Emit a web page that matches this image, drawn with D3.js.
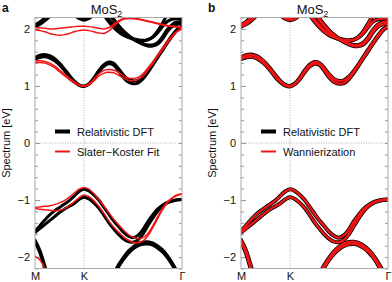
<!DOCTYPE html>
<html>
<head>
<meta charset="utf-8">
<script src="https://cdn.jsdelivr.net/npm/d3@7"></script>
<style>
  body { margin: 0; background: #fff; }
  svg text { font-family: "Liberation Sans", Arial, sans-serif; fill: #111; }
</style>
</head>
<body>
<div id="chart"></div>
<script>
// path coordinate: M = 0, K = 1, Gamma = 3
var kPath = [0, 0.1, 0.2, 0.3, 0.4, 0.5, 0.6, 0.7, 0.8, 0.9, 1.0,
             1.1, 1.2, 1.3, 1.4, 1.5, 1.6, 1.7, 1.8, 1.9, 2.0,
             2.1, 2.2, 2.3, 2.4, 2.5, 2.6, 2.7, 2.8, 2.9, 3.0];
var symLabels = ["M", "K", "\u0393"];
var symPos = [0, 1, 3];
var eTicks = [-2, -1, 0, 1, 2];
var N = null;

// relativistic DFT bands (eV)
var dftC1a = [1.50,1.54,1.55,1.53,1.48,1.40,1.30,1.19,1.09,1.02,1.00,
              1.04,1.14,1.27,1.37,1.42,1.40,1.31,1.20,1.12,1.09,
              1.10,1.16,1.26,1.38,1.51,1.64,1.77,1.89,1.99,2.05];
var dftC1b = [1.47,1.50,1.51,1.49,1.44,1.37,1.27,1.16,1.07,1.01,0.99,
              1.03,1.12,1.24,1.34,1.39,1.37,1.27,1.15,1.07,1.04,
              1.05,1.12,1.23,1.36,1.49,1.62,1.75,1.87,1.98,2.04];
var dftC2a = [2.07,2.12,2.20,2.30,2.42,N,N,N,N,N,N,
              N,N,N,N,N,N,N,N,N,N,
              N,N,N,N,N,N,N,N,N,N];
var dftC2b = [2.04,2.08,2.14,2.22,2.32,2.44,N,N,N,N,N,
              N,N,N,N,N,N,N,N,N,N,
              N,N,N,N,N,N,N,N,N,N];
var dftC3a = [N,N,N,N,N,N,N,N,2.24,2.18,2.15,
              2.18,2.24,N,N,N,N,N,N,N,N,
              N,N,N,N,N,N,N,N,N,N];
var dftC3b = [N,N,N,N,N,N,N,N,2.26,2.20,2.17,
              2.20,2.26,N,N,N,N,N,N,N,N,
              N,N,N,N,N,N,N,N,N,N];
var dftC4a = [N,N,N,N,N,N,N,N,N,N,N,
              N,N,2.40,2.25,2.13,2.03,1.95,1.89,1.85,1.82,
              1.80,1.79,1.81,1.86,1.96,2.10,2.25,2.40,N,N];
var dftC4b = [N,N,N,N,N,N,N,N,N,N,N,
              N,N,2.44,2.29,2.17,2.07,1.98,1.91,1.86,1.83,
              1.81,1.80,1.81,1.85,1.93,2.04,2.13,2.17,2.18,2.18];
var dftC5a = [N,N,N,N,N,N,N,N,N,N,N,
              N,N,N,2.42,2.28,2.15,2.05,1.96,1.89,1.83,
              1.78,1.74,1.72,1.72,1.76,1.86,1.99,2.08,2.12,2.13];
var dftC5b = [N,N,N,N,N,N,N,N,N,N,N,
              N,N,N,2.46,2.31,2.18,2.07,1.97,1.89,1.82,
              1.77,1.73,1.70,1.70,1.73,1.82,1.95,2.04,2.08,2.09];
var dftV1 = [-1.55,-1.45,-1.35,-1.26,-1.19,-1.13,-1.07,-1.01,-0.93,-0.85,-0.81,
             -0.84,-0.91,-1.00,-1.12,-1.24,-1.36,-1.46,-1.56,-1.63,-1.66,
             -1.62,-1.52,-1.38,-1.26,-1.16,-1.09,-1.04,-1.01,-0.995,-0.99];
var dftV2 = [-1.57,-1.50,-1.43,-1.36,-1.29,-1.22,-1.16,-1.11,-1.06,-0.99,-0.95,
             -0.98,-1.05,-1.14,-1.26,-1.39,-1.50,-1.60,-1.68,-1.73,-1.74,
             -1.70,-1.60,-1.46,-1.32,-1.20,-1.11,-1.05,-1.02,-1.00,-0.99];
var dftV3a = [-1.70,-1.88,-2.15,-2.45,N,N,N,N,N,N,N,
              N,N,N,N,N,N,N,N,N,N,
              N,N,N,N,N,N,N,N,N,N];
var dftV3b = [-1.73,-1.93,-2.21,-2.52,N,N,N,N,N,N,N,
              N,N,N,N,N,N,N,N,N,N,
              N,N,N,N,N,N,N,N,N,N];
var dftV4a = [N,N,N,N,N,N,N,N,N,N,N,
              N,N,N,N,N,-2.30,-2.14,-2.01,-1.90,-1.82,
              -1.765,-1.735,-1.73,-1.75,-1.80,-1.87,-1.97,-2.10,-2.25,-2.42];
var dftV4b = [N,N,N,N,N,N,N,N,N,N,N,
              N,N,N,N,N,-2.34,-2.18,-2.05,-1.94,-1.86,
              -1.805,-1.775,-1.77,-1.79,-1.84,-1.91,-2.01,-2.14,-2.29,-2.46];

// Slater-Koster fit bands (eV)
var skC1a = [1.44,1.44,1.43,1.40,1.35,1.28,1.21,1.14,1.07,1.02,1.00,
             1.04,1.12,1.21,1.27,1.29,1.28,1.24,1.18,1.14,1.13,
             1.15,1.21,1.31,1.42,1.54,1.66,1.78,1.88,1.96,2.01];
var skC1b = [1.41,1.41,1.40,1.37,1.32,1.25,1.18,1.11,1.05,1.01,0.99,
             1.02,1.09,1.17,1.22,1.24,1.23,1.19,1.14,1.10,1.09,
             1.11,1.17,1.27,1.39,1.51,1.63,1.75,1.86,1.95,2.00];
var skC2a = [2.02,2.02,2.01,2.00,2.00,2.01,2.02,2.03,2.04,2.045,2.045,
             2.04,2.03,2.01,2.00,2.02,2.08,2.14,2.18,2.19,2.19,
             2.18,2.16,2.14,2.12,2.10,2.08,2.06,2.05,2.04,2.03];
var skC2b = [1.98,1.97,1.95,1.92,1.90,1.89,1.90,1.92,1.95,1.97,1.98,
             1.97,1.95,1.93,1.92,1.96,2.04,2.12,2.17,2.18,2.18,
             2.17,2.15,2.13,2.11,2.09,2.07,2.05,2.04,2.03,2.02];
var skV1 = [-1.13,-1.12,-1.11,-1.10,-1.08,-1.05,-1.01,-0.95,-0.88,-0.81,-0.78,
            -0.81,-0.89,-0.99,-1.10,-1.22,-1.33,-1.43,-1.52,-1.60,-1.65,
            -1.68,-1.66,-1.59,-1.46,-1.30,-1.15,-1.03,-0.96,-0.91,-0.89];
var skV2 = [-1.15,-1.16,-1.17,-1.18,-1.19,-1.18,-1.15,-1.10,-1.03,-0.96,-0.91,
            -0.94,-1.01,-1.11,-1.23,-1.36,-1.47,-1.56,-1.64,-1.70,-1.74,
            -1.75,-1.72,-1.63,-1.49,-1.33,-1.17,-1.05,-0.97,-0.92,-0.90];
var skV3 = [-1.99,-2.05,-2.19,-2.38,N,N,N,N,N,N,N,
            N,N,N,N,N,N,N,N,N,N,
            N,N,N,N,N,N,N,N,N,N];

var dftBands = [dftC1a, dftC1b, dftC2a, dftC2b, dftC3a, dftC3b, dftC4a, dftC4b,
                dftC5a, dftC5b, dftV1, dftV2, dftV3a, dftV3b, dftV4a, dftV4b];
var skBands = [skC1a, skC1b, skC2a, skC2b, skV1, skV2, skV3];

drawPanels();

function drawPanels() {
  var svg = d3.select("#chart").append("svg")
      .attr("width", 392)
      .attr("height", 282);

  var plotTop = 17.5, plotBottom = 268.5, plotW = 147;

  var y = d3.scaleLinear().domain([-2.2, 2.2]).range([plotBottom, plotTop]);

  var panels = [
    {id: "a", left: 35, fit: skBands, fitLabel: "Slater\u2212Koster Fit", dftW: 3, fitW: 1.5},
    {id: "b", left: 241, fit: dftBands, fitLabel: "Wannierization", dftW: 4, fitW: 2.4}
  ];

  panels.forEach(function(p) {
    var x = d3.scaleLinear().domain([0, 3]).range([p.left, p.left + plotW]);
    var g = svg.append("g");

    // clip to the plot frame
    g.append("clipPath").attr("id", "clip-" + p.id)
      .append("rect")
        .attr("x", p.left).attr("y", plotTop)
        .attr("width", plotW).attr("height", plotBottom - plotTop);

    // dotted guides at K and at zero
    g.append("line")
        .attr("x1", x(1)).attr("x2", x(1)).attr("y1", plotTop).attr("y2", plotBottom)
        .attr("stroke", "#9fb0c4").attr("stroke-dasharray", "1,1.5");
    g.append("line")
        .attr("x1", p.left).attr("x2", p.left + plotW).attr("y1", y(0)).attr("y2", y(0))
        .attr("stroke", "#9fb0c4").attr("stroke-dasharray", "1,1.5");

    // minor inner ticks, left and right
    g.append("g")
        .attr("transform", "translate(" + p.left + ",0)")
        .call(d3.axisLeft(y).ticks(20).tickSize(-3).tickFormat(""))
        .call(function(s) { s.select(".domain").remove(); s.selectAll("line").attr("stroke", "#999"); });
    g.append("g")
        .attr("transform", "translate(" + (p.left + plotW) + ",0)")
        .call(d3.axisRight(y).ticks(20).tickSize(-3).tickFormat(""))
        .call(function(s) { s.select(".domain").remove(); s.selectAll("line").attr("stroke", "#999"); });

    // y tick labels
    g.append("g")
        .attr("transform", "translate(" + p.left + ",0)")
        .call(d3.axisLeft(y).tickValues(eTicks).tickSize(-5).tickPadding(5)
                .tickFormat(function(d) { return d < 0 ? "\u2212" + Math.abs(d) : d; }))
        .call(function(s) {
          s.select(".domain").remove();
          s.selectAll("line").attr("stroke", "#999");
          s.selectAll("text").attr("font-size", 11).style("fill", "#111")
            .attr("font-family", "Liberation Sans, Arial, sans-serif");
        });

    // x symmetry point labels
    g.append("g")
        .attr("transform", "translate(0," + plotBottom + ")")
        .call(d3.axisBottom(x).tickValues(symPos).tickSize(0).tickPadding(4)
                .tickFormat(function(d, i) { return symLabels[i]; }))
        .call(function(s) {
          s.select(".domain").remove();
          s.selectAll("text").attr("font-size", 11).style("fill", "#111")
            .attr("font-family", "Liberation Sans, Arial, sans-serif");
        });

    // bands
    var line = d3.line()
        .defined(function(d) { return d[1] != null; })
        .x(function(d) { return x(d[0]); })
        .y(function(d) { return y(d[1]); })
        .curve(d3.curveCatmullRom.alpha(0.5));
    var toPts = function(band) { return kPath.map(function(k, i) { return [k, band[i]]; }); };

    var bands = g.append("g").attr("clip-path", "url(#clip-" + p.id + ")");
    bands.selectAll(".dft")
      .data(dftBands)
      .enter().append("path")
        .attr("class", "dft")
        .attr("d", function(b) { return line(toPts(b)); })
        .attr("fill", "none").attr("stroke", "#000")
        .attr("stroke-width", p.dftW).attr("stroke-linecap", "round").attr("stroke-linejoin", "round");
    bands.selectAll(".fit")
      .data(p.fit)
      .enter().append("path")
        .attr("class", "fit")
        .attr("d", function(b) { return line(toPts(b)); })
        .attr("fill", "none").attr("stroke", "#f01414")
        .attr("stroke-width", p.fitW).attr("stroke-linecap", "round").attr("stroke-linejoin", "round");

    // frame
    g.append("rect")
        .attr("x", p.left).attr("y", plotTop)
        .attr("width", plotW).attr("height", plotBottom - plotTop)
        .attr("fill", "none").attr("stroke", "#aaa").attr("stroke-width", 1);

    // legend
    var lx = p.left + 20;
    g.append("line").attr("x1", lx).attr("x2", lx + 15).attr("y1", 131.5).attr("y2", 131.5)
        .attr("stroke", "#000").attr("stroke-width", 4);
    g.append("text").attr("x", lx + 22).attr("y", 135.5).attr("font-size", 11).text("Relativistic DFT");
    g.append("line").attr("x1", lx).attr("x2", lx + 15).attr("y1", 151.5).attr("y2", 151.5)
        .attr("stroke", "#f01414").attr("stroke-width", 2);
    g.append("text").attr("x", lx + 22).attr("y", 155.5).attr("font-size", 11).text(p.fitLabel);

    // axis title
    g.append("text")
        .attr("text-anchor", "middle")
        .attr("transform", "translate(" + (p.left - 25) + "," + y(0) + ")rotate(-90)")
        .attr("font-size", 11)
        .text("Spectrum [eV]");

    // panel title
    var t = g.append("text")
        .attr("x", p.left + plotW / 2 - 2).attr("y", 14)
        .attr("text-anchor", "middle").attr("font-size", 13);
    t.append("tspan").text("MoS");
    t.append("tspan").attr("font-size", 9).attr("dy", 3).text("2");

    // panel letter
    g.append("text")
        .attr("x", p.left - 33).attr("y", 12)
        .attr("font-size", 12).attr("font-weight", "bold")
        .text(p.id);
  });
}
</script>
</body>
</html>
